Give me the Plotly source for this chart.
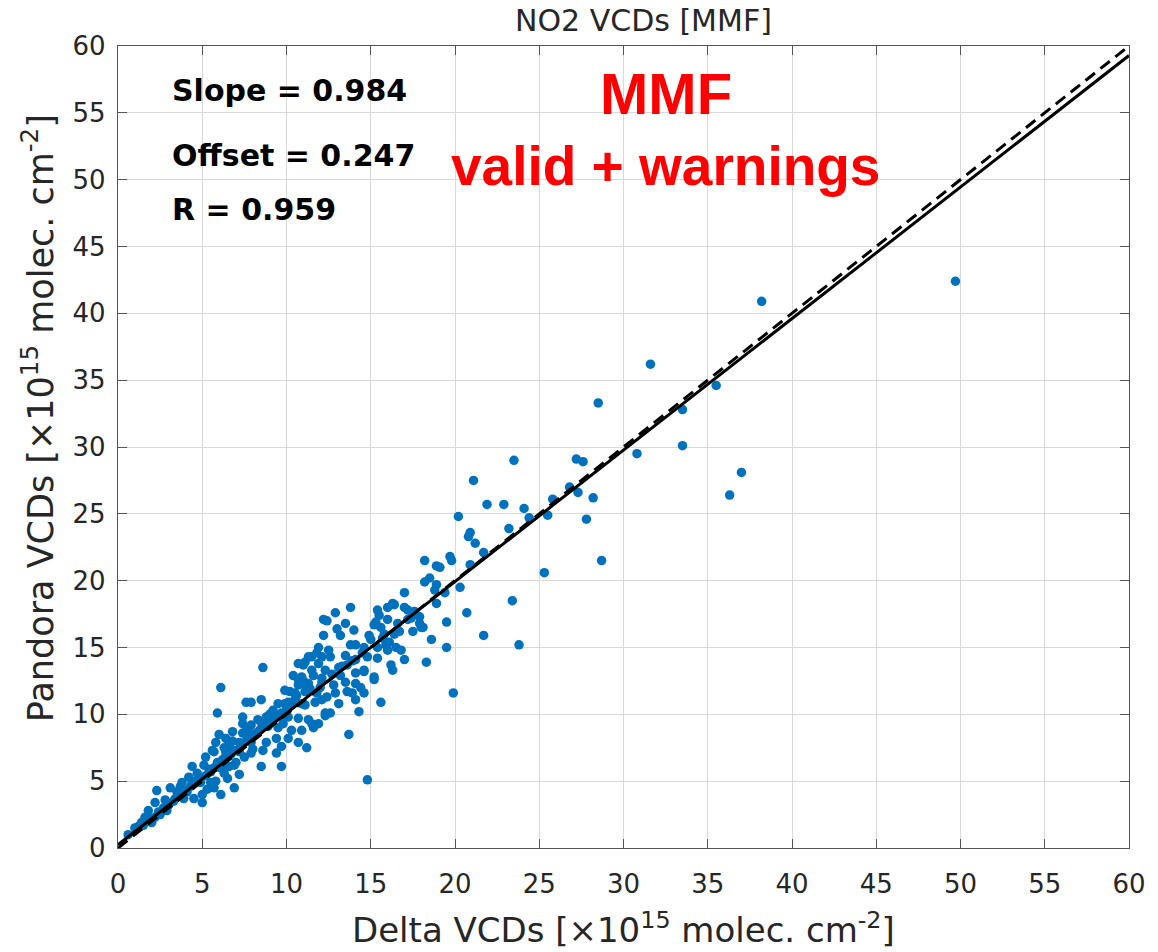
import plotly.graph_objects as go

# ---- data ----
delta_vcd = [
    2.3, 4.4, 5.1, 5.7, 6.3, 6.7, 4.7, 5.5, 6.1, 6.9,
    3.8, 4.4, 4.9, 5.5, 6.5, 7.2, 3.1, 3.5, 4.1, 5.0,
    5.7, 6.1, 6.9, 5.0, 2.2, 2.8, 3.4, 3.9, 4.5, 1.8,
    2.4, 2.9, 1.6, 2.2, 1.4, 2.0, 1.0, 0.6,
    8.6, 6.1, 7.6, 7.9, 8.5, 5.9, 9.5, 10.7, 11.1, 11.5,
    11.9, 10.9, 11.6, 12.1, 10.7, 11.2, 10.2, 11.8, 9.9, 10.5,
    11.1, 11.7, 12.3, 9.2, 9.6, 8.8, 8.5, 10.1, 10.7, 11.3,
    11.9, 7.4, 7.4, 7.9, 8.9, 9.5, 10.3, 10.9, 11.6, 6.8,
    7.4, 8.2, 9.4, 10.1, 10.7, 6.0, 6.4, 5.8, 6.6, 7.2,
    7.9, 8.8, 9.7, 8.6, 11.2, 5.6, 6.4, 7.2, 7.9, 9.4,
    5.2, 8.5, 9.7,
    12.9, 12.2, 12.4, 13.5, 13.8, 15.4, 16.4, 17.0, 15.3, 16.0,
    15.6, 12.2, 13.2, 13.8, 14.1, 11.9, 14.6, 15.4, 16.0, 16.1,
    16.8, 17.0, 11.3, 12.1, 12.6, 13.5, 14.1, 14.8, 15.4, 16.2,
    16.3, 11.0, 11.5, 12.3, 13.1, 13.6, 14.1, 14.6, 15.2, 10.7,
    11.3, 12.1, 12.8, 13.5, 14.1, 9.9, 10.5, 11.1, 12.9, 13.6,
    14.6, 10.1, 10.9, 12.1, 13.1, 14.1, 15.6, 14.3, 12.3, 12.6,
    11.5, 13.7, 14.8, 16.5, 15.9, 15.2, 16.6, 17.2, 17.9, 18.0,
    17.6, 17.2, 16.0, 16.3, 15.5, 13.9, 15.2, 14.6,
    18.2, 18.9, 19.8, 20.9, 18.2, 18.5, 18.9, 18.8, 19.4, 20.3,
    17.0, 20.7, 21.7, 19.5, 18.6, 19.5, 18.3, 19.9, 20.2, 20.9,
    20.8, 21.2, 21.7, 19.7, 19.1, 21.1, 21.9, 22.9, 23.5, 23.2,
    24.1, 24.4, 25.5, 25.8, 26.8, 27.3, 28.2, 27.2, 27.6, 27.8,
    28.7, 25.3, 23.4, 23.8, 28.5, 30.8, 31.6, 33.5, 33.5, 35.5,
    36.3, 37.0, 38.2, 49.7, 18.9, 17.9, 18.1,
    1.2, 1.5, 1.9, 2.5, 2.7, 3.0, 3.3, 3.6, 4.0, 4.3,
    4.6, 4.8, 5.2, 5.4, 5.7, 5.9, 6.2, 6.4, 6.7, 7.0,
    7.3, 7.6, 7.8, 8.1, 8.4, 8.7, 9.0, 9.3, 9.7, 10.0,
    10.3,
    5.3, 5.8, 6.3, 6.6, 7.0, 7.5, 8.0, 4.2, 3.7, 6.8,
    7.7, 8.3, 9.0, 9.8,
    10.6, 11.4, 12.0, 12.7, 13.3, 13.9, 14.5, 15.0, 15.8, 16.7,
    17.4, 11.8, 12.5, 13.0, 14.0, 14.9, 15.7, 16.4, 17.5, 10.4,
    11.0, 12.4, 13.2, 14.4,
]
pandora_vcd = [
    4.3, 6.1, 6.2, 7.2, 7.5, 7.0, 5.6, 5.7, 6.0, 6.2,
    4.9, 4.9, 4.9, 4.9, 5.2, 5.5, 4.5, 4.2, 4.2, 4.0,
    4.5, 4.0, 4.5, 3.4, 3.4, 3.6, 3.7, 3.7, 3.7, 2.8,
    2.7, 2.8, 2.3, 2.3, 1.9, 1.9, 1.5, 1.0,
    13.5, 12.0, 10.9, 10.9, 11.1, 10.1, 10.8, 13.8, 13.9, 14.3,
    13.8, 12.8, 12.9, 12.7, 12.2, 12.0, 11.7, 11.6, 10.8, 11.1,
    10.7, 10.9, 10.1, 10.3, 9.9, 9.8, 9.4, 9.8, 9.7, 9.6,
    9.3, 9.8, 9.3, 9.2, 9.1, 9.0, 8.8, 8.8, 9.0, 8.7,
    8.6, 8.6, 8.2, 8.2, 7.9, 8.5, 8.2, 7.9, 7.9, 7.9,
    7.9, 7.9, 7.6, 7.3, 7.5, 7.3, 7.2, 7.2, 7.1, 7.1,
    6.8, 6.1, 6.1,
    17.6, 17.1, 17.0, 16.8, 18.0, 17.8, 18.2, 18.0, 16.9, 17.1,
    16.5, 15.9, 15.9, 15.2, 15.2, 15.0, 15.0, 15.0, 14.8, 15.4,
    14.8, 14.1, 14.3, 14.3, 14.3, 14.4, 14.1, 14.3, 14.2, 13.7,
    13.3, 13.7, 13.3, 13.3, 13.5, 13.7, 13.1, 13.3, 12.6, 12.6,
    12.3, 12.4, 12.2, 12.4, 12.3, 11.8, 11.6, 11.7, 11.6, 11.7,
    11.6, 10.9, 10.8, 11.1, 10.8, 11.1, 10.9, 10.2, 9.9, 10.1,
    9.3, 8.5, 5.1, 15.0, 15.2, 16.7, 16.8, 17.1, 16.8, 16.5,
    17.7, 17.8, 18.0, 18.3, 17.4, 11.6, 12.8, 13.2,
    21.5, 21.1, 21.5, 21.2, 19.9, 20.2, 19.7, 19.3, 19.1, 19.5,
    19.1, 17.6, 15.9, 16.9, 15.6, 15.0, 13.9, 11.6, 24.8, 23.6,
    23.3, 22.8, 22.1, 21.8, 21.0, 27.5, 25.7, 25.7, 29.0, 23.9,
    25.4, 24.7, 24.9, 26.1, 27.0, 26.6, 26.2, 29.1, 28.9, 24.6,
    21.5, 20.6, 18.5, 15.2, 33.3, 29.5, 36.2, 30.1, 32.8, 34.6,
    26.4, 28.1, 40.9, 42.4, 18.3, 17.3, 16.5,
    1.6, 1.7, 2.2, 2.5, 3.0, 3.2, 3.5, 3.9, 4.3, 4.6,
    5.0, 5.3, 5.4, 5.9, 6.0, 6.4, 6.6, 6.9, 7.4, 7.3,
    7.7, 8.0, 8.3, 8.5, 8.8, 9.1, 9.4, 9.7, 10.1, 10.4,
    10.7,
    4.4, 5.0, 5.6, 6.1, 6.4, 6.8, 7.4, 5.3, 4.6, 8.0,
    8.9, 9.6, 10.0, 9.3,
    11.4, 11.9, 12.0, 13.0, 13.6, 14.0, 14.6, 15.6, 16.0, 16.2,
    17.2, 14.6, 14.8, 16.4, 16.3, 15.9, 15.7, 16.0, 16.2, 12.9,
    12.5, 11.3, 12.9, 12.0,
]

fit_slope = 0.984
fit_offset = 0.247
fit_r = 0.959
line_x = [0, 60]
axis_ticks = list(range(0, 61, 5))

title_text = "NO2 VCDs [MMF]"
x_title = "Delta VCDs [\u00d710<sup>15</sup> molec. cm<sup>-2</sup>]"
y_title = "Pandora VCDs [\u00d710<sup>15</sup> molec. cm<sup>-2</sup>]"

# ---- figure ----
fig = go.Figure()
fig.add_trace(go.Scatter(
    x=delta_vcd, y=pandora_vcd, mode="markers",
    marker=dict(color="#0072BD", size=9.5, line=dict(width=0)),
    showlegend=False, hoverinfo="skip"))
fig.add_trace(go.Scatter(
    x=line_x, y=line_x, mode="lines",
    line=dict(color="black", width=3, dash="12px,7px"),
    showlegend=False, hoverinfo="skip"))
fig.add_trace(go.Scatter(
    x=line_x, y=[fit_offset + fit_slope * v for v in line_x], mode="lines",
    line=dict(color="black", width=3),
    showlegend=False, hoverinfo="skip"))

FONT = "DejaVu Sans"
axis_common = dict(
    range=[0, 60], tickvals=axis_ticks, showgrid=True, gridcolor="#d9d9d9",
    gridwidth=1, zeroline=False, showline=True, linecolor="#555555",
    linewidth=1.3, mirror="ticks", ticks="inside", ticklen=9,
    tickcolor="#555555", tickfont=dict(family=FONT, size=26, color="#262626"),
)
fig.update_xaxes(**axis_common, ticklabelstandoff=13)
fig.update_yaxes(**axis_common, ticklabelstandoff=6)

# white boxes behind the text (cover grid only)
for x0, x1, y0, y1 in [(0.005, 0.298, 0.843, 0.995),
                       (0.005, 0.208, 0.758, 0.843),
                       (0.321, 0.713, 0.799, 0.997)]:
    fig.add_shape(type="rect", xref="paper", yref="paper", x0=x0, x1=x1,
                  y0=y0, y1=y1, fillcolor="white", line=dict(width=0),
                  layer="between")

stat_font = dict(family=FONT, size=30, color="black")
for text, yp in [(f"<b>Slope = {fit_slope:.3f}</b>", 0.945),
                 (f"<b>Offset = {fit_offset:.3f}</b>", 0.864),
                 (f"<b>R = {fit_r:.3f}</b>", 0.796)]:
    fig.add_annotation(text=text, xref="paper", yref="paper", x=0.051, y=yp,
                       xanchor="left", yanchor="middle", showarrow=False,
                       font=stat_font)

red_font = dict(family="Liberation Sans", size=55, color="#ff0000")
fig.add_annotation(text="<b>MMF</b>", xref="paper", yref="paper", x=0.542,
                   y=0.941, xanchor="center", yanchor="middle",
                   showarrow=False, font=dict(family="Liberation Sans", size=58, color="#ff0000"))
fig.add_annotation(text="<b>valid + warnings</b>", xref="paper", yref="paper",
                   x=0.542, y=0.850, xanchor="center", yanchor="middle",
                   showarrow=False, font=red_font)

# titles
fig.add_annotation(text=title_text, xref="paper", yref="paper", x=0.5, y=1,
                   xanchor="center", yanchor="bottom", yshift=6, xshift=20,
                   showarrow=False, font=dict(family=FONT, size=30, color="#262626"))
fig.add_annotation(text=x_title, xref="paper", yref="paper", x=0.5, y=0,
                   xanchor="center", yanchor="top", yshift=-56,
                   showarrow=False, font=dict(family=FONT, size=34, color="#262626"))
fig.add_annotation(text=y_title, xref="paper", yref="paper", x=0, y=0.536,
                   xanchor="center", yanchor="middle", xshift=-80,
                   textangle=-90, showarrow=False,
                   font=dict(family=FONT, size=35, color="#262626"))

fig.update_layout(
    width=1158, height=952,
    margin=dict(l=118, r=21, t=46, b=104),
    paper_bgcolor="white", plot_bgcolor="white",
)

fig.write_html("out.html")
